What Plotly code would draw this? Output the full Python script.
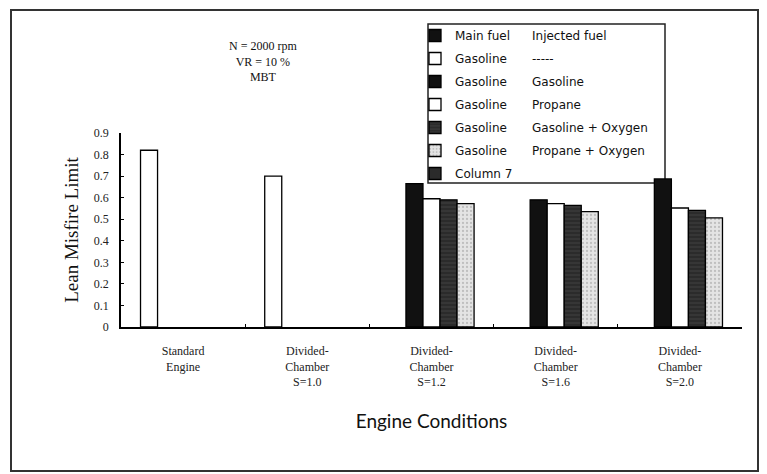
import plotly.graph_objects as go

# Engine conditions (categories on the x axis)
categories = [
    "Standard<br>Engine",
    "Divided-<br>Chamber<br>S=1.0",
    "Divided-<br>Chamber<br>S=1.2",
    "Divided-<br>Chamber<br>S=1.6",
    "Divided-<br>Chamber<br>S=2.0",
]

# Lean misfire limit per series (None = no bar for that condition)
main_fuel_header = [None, None, None, None, None]
gasoline_none = [0.82, 0.70, None, None, None]
gasoline_gasoline = [None, None, 0.665, 0.59, 0.687]
gasoline_propane = [None, None, 0.595, 0.572, 0.552]
gasoline_gasoline_oxygen = [None, None, 0.59, 0.564, 0.541]
gasoline_propane_oxygen = [None, None, 0.572, 0.535, 0.506]
column_7 = [None, None, None, None, None]

# Legend text: main fuel column and injected fuel column
main_fuel_names = ["Main fuel", "Gasoline", "Gasoline", "Gasoline", "Gasoline", "Gasoline", "Column 7"]
injected_fuel_names = ["Injected fuel", "-----", "Gasoline", "Propane", "Gasoline + Oxygen", "Propane + Oxygen"]

y_ticks = [0, 0.1, 0.2, 0.3, 0.4, 0.5, 0.6, 0.7, 0.8, 0.9]

series = [main_fuel_header, gasoline_none, gasoline_gasoline, gasoline_propane,
          gasoline_gasoline_oxygen, gasoline_propane_oxygen, column_7]

styles = [
    dict(color="#111111"),
    dict(color="#ffffff"),
    dict(color="#111111"),
    dict(color="#ffffff"),
    dict(color="#2b2b2b", pattern=dict(shape="-", fgcolor="#555555", size=4, solidity=0.25)),
    dict(color="#e4e4e4", pattern=dict(shape=".", fgcolor="#9a9a9a", size=4, solidity=0.25)),
    dict(color="#2b2b2b"),
]

W, H = 767, 474
L, R, T, B = 121, 25, 133, 147
PW, PH = W - L - R, H - T - B


def px_x(x):
    return (x - L) / PW


def px_y(y):
    return (H - B - y) / PH


fig = go.Figure()

for i, (vals, st) in enumerate(zip(series, styles)):
    fig.add_trace(go.Bar(
        x=categories, y=vals, name=main_fuel_names[i],
        legendgroup=f"g{i}", legend="legend",
        marker=dict(line=dict(color="#000000", width=1.3), **st),
        hoverinfo="skip",
    ))

# Second legend column: injected fuel descriptions (no visible marks)
for i, name in enumerate(injected_fuel_names):
    fig.add_trace(go.Scatter(
        x=[None], y=[None], name=name, mode="markers",
        legendgroup=f"h{i}", legend="legend2",
        marker=dict(color="rgba(0,0,0,0)", size=1),
        showlegend=True, hoverinfo="skip",
    ))

legend_font = dict(family="'DejaVu Sans', sans-serif", size=12, color="#111111")

fig.update_layout(
    width=W, height=H,
    margin=dict(l=L, r=R, t=T, b=B),
    paper_bgcolor="white", plot_bgcolor="white",
    barmode="group", bargap=0.04, bargroupgap=0,
    showlegend=True,
    legend=dict(
        x=px_x(415), y=px_y(21), xanchor="left", yanchor="top",
        bgcolor="rgba(0,0,0,0)", borderwidth=0,
        font=legend_font, tracegroupgap=4, traceorder="grouped",
    ),
    legend2=dict(
        x=px_x(492), y=px_y(21), xanchor="left", yanchor="top",
        bgcolor="rgba(0,0,0,0)", borderwidth=0,
        font=legend_font, tracegroupgap=4, traceorder="grouped",
    ),
    xaxis=dict(
        type="category",
        showline=True, linecolor="#000000", linewidth=1.5,
        ticks="inside", ticklen=3, tickcolor="#000000", tickson="boundaries",
        tickfont=dict(family="Liberation Serif", size=12, color="#222222"),
        ticklabelstandoff=12,
        showgrid=False, zeroline=False,
        title=dict(text="Engine Conditions", standoff=26,
                   font=dict(family="Lato, 'DejaVu Sans', sans-serif", size=19, color="#111111")),
    ),
    yaxis=dict(
        range=[0, 0.9], tickvals=y_ticks,
        showline=True, linecolor="#000000", linewidth=1.5,
        ticks="inside", ticklen=3, tickcolor="#000000",
        tickfont=dict(family="Liberation Serif", size=12, color="#222222"),
        ticklabelstandoff=8,
        showgrid=False, zeroline=False,
        title=dict(text="Lean Misfire Limit", standoff=10,
                   font=dict(family="Liberation Serif", size=19, color="#111111")),
    ),
    annotations=[
        dict(text="N = 2000 rpm<br>VR = 10 %<br>MBT", xref="paper", yref="paper",
             x=px_x(263), y=px_y(37), xanchor="center", yanchor="top", showarrow=False,
             font=dict(family="Liberation Serif", size=12, color="#111111")),
    ],
    shapes=[
        # legend box
        dict(type="rect", xref="paper", yref="paper",
             x0=px_x(428), x1=px_x(665), y0=px_y(183), y1=px_y(24),
             line=dict(color="#222222", width=1.5), fillcolor="rgba(0,0,0,0)", layer="below"),
        # outer chart frame
        dict(type="rect", xref="paper", yref="paper",
             x0=px_x(11), x1=px_x(758), y0=px_y(471), y1=px_y(10),
             line=dict(color="#333333", width=2), fillcolor="rgba(0,0,0,0)", layer="below"),
    ],
)

fig.write_html("out.html")
